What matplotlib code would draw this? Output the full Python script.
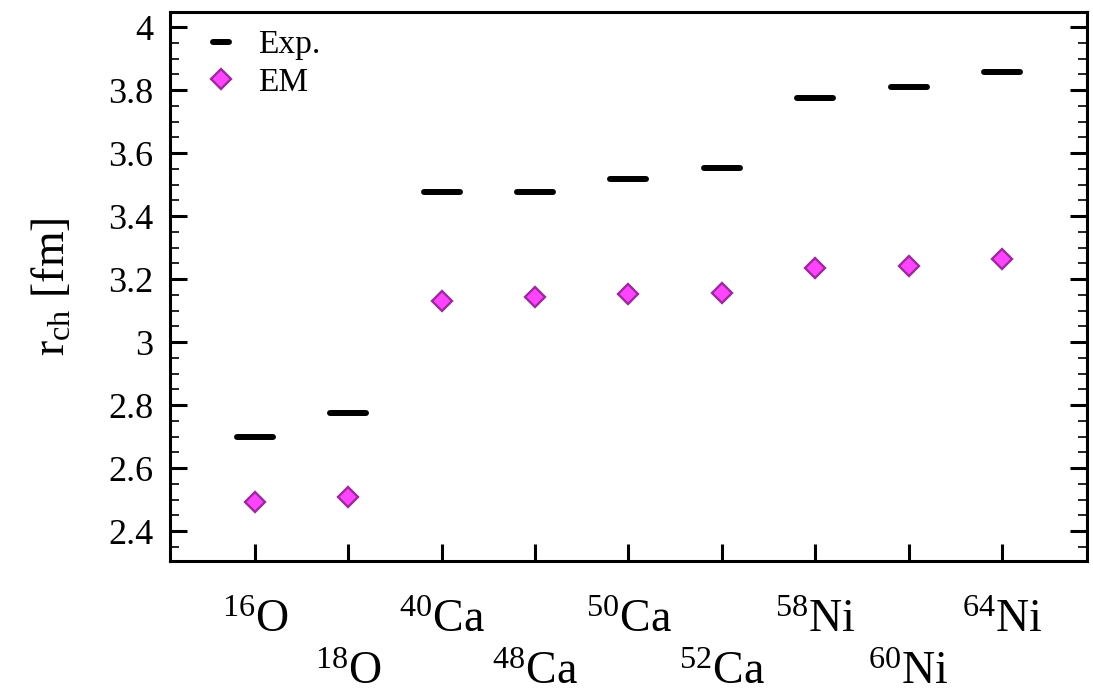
import matplotlib
matplotlib.use("Agg")
import matplotlib.pyplot as plt
from matplotlib.markers import MarkerStyle
from matplotlib.lines import Line2D
from matplotlib.ticker import MultipleLocator

plt.rcParams['font.family'] = ['Liberation Serif', 'DejaVu Serif']
plt.rcParams['mathtext.fontset'] = 'custom'
plt.rcParams['mathtext.rm'] = 'Liberation Serif'
plt.rcParams['mathtext.it'] = 'Liberation Serif:italic'
plt.rcParams['mathtext.bf'] = 'Liberation Serif:bold'

nuclei = [r'$^{\mathrm{16}}$O', r'$^{\mathrm{18}}$O', r'$^{\mathrm{40}}$Ca', r'$^{\mathrm{48}}$Ca',
          r'$^{\mathrm{50}}$Ca', r'$^{\mathrm{52}}$Ca', r'$^{\mathrm{58}}$Ni', r'$^{\mathrm{60}}$Ni',
          r'$^{\mathrm{64}}$Ni']
exp_vals = [2.70, 2.775, 3.478, 3.477, 3.518, 3.552, 3.775, 3.811, 3.857]
em_vals = [2.492, 2.508, 3.130, 3.143, 3.152, 3.156, 3.235, 3.241, 3.263]
yticks = [2.4, 2.6, 2.8, 3.0, 3.2, 3.4, 3.6, 3.8, 4.0]
ytick_labels = ['2.4', '2.6', '2.8', '3', '3.2', '3.4', '3.6', '3.8', '4']

x = list(range(1, len(nuclei) + 1))

fig = plt.figure(figsize=(10.93, 6.92), dpi=100)
ax = fig.add_axes([0.1555, 0.1893, 0.839, 0.7934])

bar = MarkerStyle('_', capstyle='round')
ax.plot(x, exp_vals, linestyle='none', marker=bar, markersize=26, markeredgewidth=4.3,
        color='black')
ax.plot(x, em_vals, linestyle='none', marker='D', markersize=10.5, markeredgewidth=1.7,
        markerfacecolor='#ff44ff', markeredgecolor='#9b2a9b')

ax.set_xlim(0.09, 9.91)
ax.set_ylim(2.305, 4.048)

ax.set_yticks(yticks)
ax.set_yticklabels(ytick_labels, fontsize=26)
ax.yaxis.set_minor_locator(MultipleLocator(0.05))
ax.set_xticks(x)
ax.set_xticklabels(nuclei, fontsize=33)

ax.tick_params(axis='y', which='major', direction='in', length=12, width=2.2, right=True,
               pad=12)
ax.tick_params(axis='y', which='minor', direction='in', length=6.5, width=1.2, right=True)
ax.tick_params(axis='x', which='major', direction='in', length=12, width=2.2, top=False,
               pad=28)
for i, t in enumerate(ax.xaxis.get_major_ticks()):
    if i % 2 == 1:
        t.set_pad(65)

for s in ax.spines.values():
    s.set_linewidth(2.2)

ax.set_ylabel(r'r$_{\mathrm{ch}}$ [fm]', fontsize=33, labelpad=24)

handles = [
    Line2D([], [], linestyle='none', marker=bar, markersize=11, markeredgewidth=4.3,
           color='black'),
    Line2D([], [], linestyle='none', marker='D', markersize=10.5, markeredgewidth=1.7,
           markerfacecolor='#ff44ff', markeredgecolor='#9b2a9b'),
]
ax.legend(handles, ['Exp.', 'EM'], loc='upper left', frameon=False, fontsize=24,
          handlelength=1.0, handletextpad=0.6, labelspacing=0.22,
          borderaxespad=0.3, bbox_to_anchor=(0.012, 1.01))

fig.savefig('out.png', dpi=100)
